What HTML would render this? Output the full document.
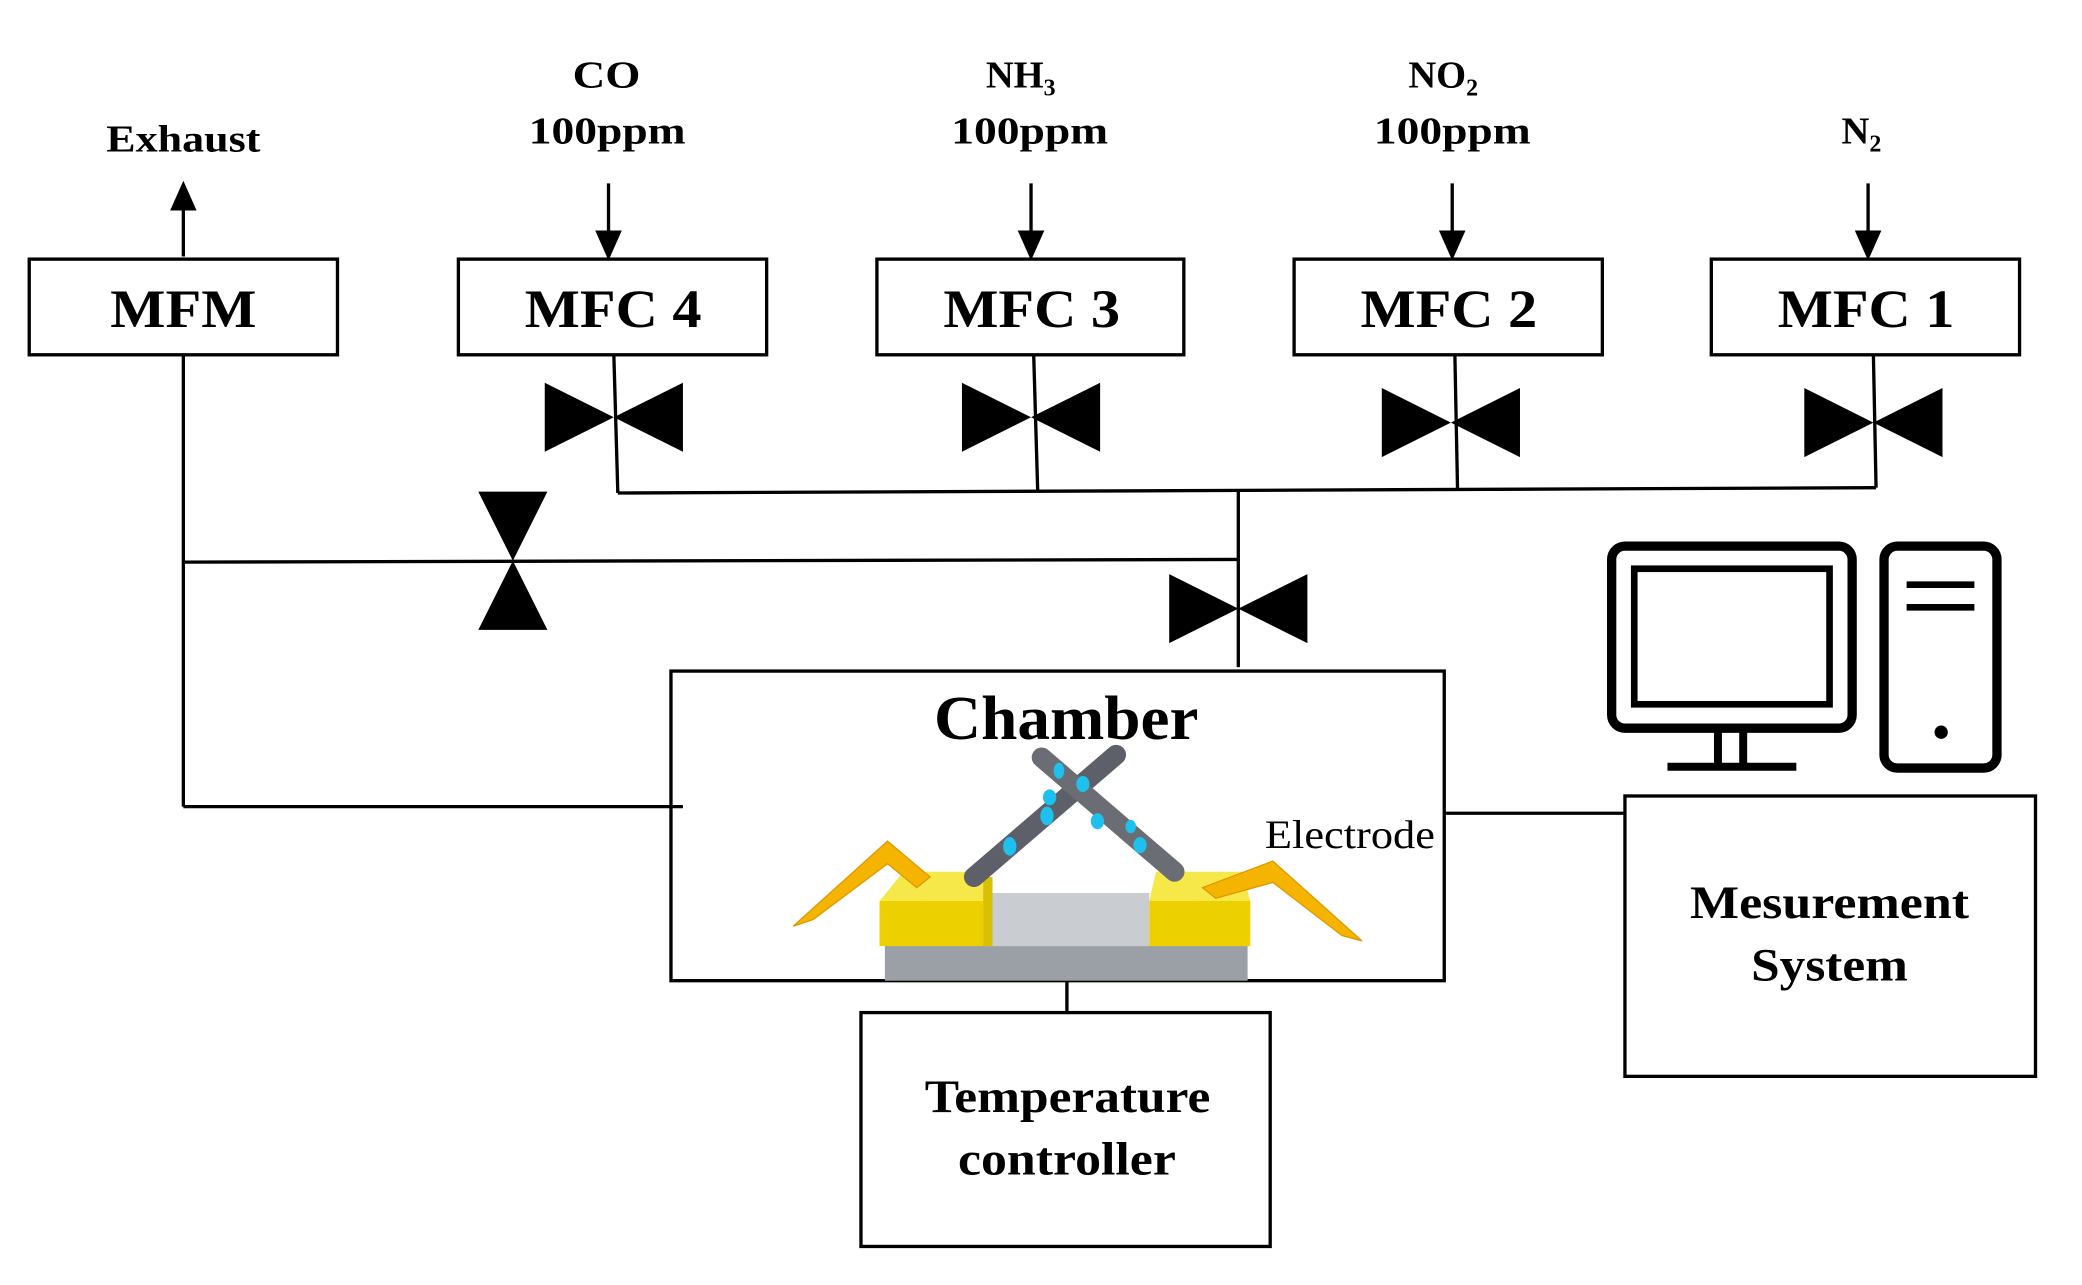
<!DOCTYPE html>
<html><head><meta charset="utf-8"><style>
html,body{margin:0;padding:0;background:#fff}
svg{display:block}
text{font-family:"Liberation Serif",serif;fill:#000}
.b{font-weight:bold}
</style></head><body>
<svg width="2082" height="1285" viewBox="0 0 1567 967" preserveAspectRatio="none" xmlns="http://www.w3.org/2000/svg">
<defs><marker id="ah" markerWidth="10" markerHeight="10" refX="5" refY="5" orient="auto"><path d="M0,1 L9,5 L0,9 Z" fill="#000"/></marker></defs>
<g stroke="#000" stroke-width="2.5" fill="none">
<line x1="138" y1="193" x2="138" y2="146" marker-end="url(#ah)"/>
<line x1="458" y1="138" x2="458" y2="186" marker-end="url(#ah)"/>
<line x1="776" y1="138" x2="776" y2="186" marker-end="url(#ah)"/>
<line x1="1093" y1="138" x2="1093" y2="186" marker-end="url(#ah)"/>
<line x1="1406" y1="138" x2="1406" y2="186" marker-end="url(#ah)"/>
<rect x="22" y="195" width="232" height="72" fill="#fff"/>
<rect x="345" y="195" width="232" height="72" fill="#fff"/>
<rect x="660" y="195" width="231" height="72" fill="#fff"/>
<rect x="974" y="195" width="232" height="72" fill="#fff"/>
<rect x="1288" y="195" width="232" height="72" fill="#fff"/>
<line x1="462" y1="267" x2="465" y2="371"/>
<line x1="778" y1="267" x2="781" y2="369"/>
<line x1="1095" y1="267" x2="1097" y2="368"/>
<line x1="1410" y1="267" x2="1412" y2="367"/>
<line x1="465" y1="371" x2="1412" y2="367"/>
<line x1="932" y1="369" x2="932" y2="502"/>
<line x1="138" y1="423" x2="932" y2="421"/>
<line x1="138" y1="267" x2="138" y2="607"/>
<line x1="138" y1="607" x2="514" y2="607"/>
<rect x="505" y="505" width="582" height="233"/>
<line x1="1087" y1="612" x2="1223" y2="612"/>
<rect x="1223" y="599" width="309" height="211"/>
<line x1="803" y1="738" x2="803" y2="762"/>
<rect x="648" y="762" width="308" height="176"/>
</g>
<g fill="#000">
<path d="M410,288 L462,314 L410,340 Z M514,288 L462,314 L514,340 Z"/>
<path d="M724,288 L776,314 L724,340 Z M828,288 L776,314 L828,340 Z"/>
<path d="M1040,292 L1092,318 L1040,344 Z M1144,292 L1092,318 L1144,344 Z"/>
<path d="M1358,292 L1410,318 L1358,344 Z M1462,292 L1410,318 L1462,344 Z"/>
<path d="M360,370 L412,370 L386,422 Z M360,474 L412,474 L386,422 Z"/>
<path d="M880,432 L932,458 L880,484 Z M984,432 L932,458 L984,484 Z"/>
</g>
<g stroke="#000" stroke-width="7" fill="none">
<rect x="1213" y="411" width="181" height="137" rx="10"/>
<rect x="1230" y="428" width="147" height="102" stroke-width="5"/>
<line x1="1293" y1="548" x2="1293" y2="577" stroke-width="6"/>
<line x1="1312" y1="548" x2="1312" y2="577" stroke-width="6"/>
<line x1="1255" y1="577" x2="1352" y2="577" stroke-width="6"/>
<rect x="1418" y="411" width="85" height="167" rx="10"/>
<line x1="1435" y1="440" x2="1486" y2="440" stroke-width="5"/>
<line x1="1435" y1="457" x2="1486" y2="457" stroke-width="5"/>
</g>
<circle cx="1461" cy="551" r="5" fill="#000"/>
<rect x="666" y="710" width="273" height="28" fill="#9aa0a6"/>
<path d="M745,672 L865,672 L865,712 L740,712 Z" fill="#c9ccd0"/>
<rect x="662" y="678" width="78" height="34" fill="#ecd000"/>
<path d="M662,678 L680,656 L745,656 L740,678 Z" fill="#f7e84a"/>
<rect x="740" y="660" width="7" height="52" fill="#d9c000"/>
<rect x="865" y="678" width="76" height="34" fill="#ecd000"/>
<path d="M865,678 L870,656 L935,656 L941,678 Z" fill="#f7e84a"/>
<path d="M597,697 L668,633 L700,660 L690,668 L668,650 L612,692 Z" fill="#f5b400" stroke="#e09a00" stroke-width="1"/>
<path d="M1025,708 L958,648 L905,668 L915,676 L958,664 L1010,704 Z" fill="#f5b400" stroke="#e09a00" stroke-width="1"/>
<line x1="733" y1="660" x2="840" y2="568" stroke="#5d6068" stroke-width="15" stroke-linecap="round"/>
<line x1="784" y1="570" x2="884" y2="656" stroke="#6a6d74" stroke-width="15" stroke-linecap="round"/>
<g fill="#1ec0ee">
<ellipse cx="760" cy="637" rx="5" ry="7"/><ellipse cx="788" cy="614" rx="5" ry="7"/><ellipse cx="815" cy="590" rx="5" ry="6"/>
<ellipse cx="790" cy="600" rx="5" ry="6"/><ellipse cx="826" cy="618" rx="5" ry="6"/><ellipse cx="858" cy="636" rx="5" ry="6"/><ellipse cx="851" cy="622" rx="4" ry="5"/><ellipse cx="797" cy="580" rx="4" ry="6"/>
</g>
<g lengthAdjust="spacingAndGlyphs">
<text x="80" y="114" font-size="29" class="b" textLength="116" lengthAdjust="spacingAndGlyphs">Exhaust</text>
<text x="431" y="66" font-size="29" class="b" textLength="51" lengthAdjust="spacingAndGlyphs">CO</text>
<text x="398" y="108" font-size="29" class="b" textLength="118" lengthAdjust="spacingAndGlyphs">100ppm</text>
<text x="742" y="66" font-size="29" class="b">NH<tspan font-size="18" dy="6">3</tspan></text>
<text x="716" y="108" font-size="29" class="b" textLength="118" lengthAdjust="spacingAndGlyphs">100ppm</text>
<text x="1060" y="66" font-size="29" class="b">NO<tspan font-size="18" dy="6">2</tspan></text>
<text x="1034" y="108" font-size="29" class="b" textLength="118" lengthAdjust="spacingAndGlyphs">100ppm</text>
<text x="1386" y="108" font-size="29" class="b">N<tspan font-size="18" dy="6">2</tspan></text>
<text x="83" y="246" font-size="41" class="b" textLength="110" lengthAdjust="spacingAndGlyphs">MFM</text>
<text x="395" y="246" font-size="41" class="b" textLength="133" lengthAdjust="spacingAndGlyphs">MFC 4</text>
<text x="710" y="246" font-size="41" class="b" textLength="133" lengthAdjust="spacingAndGlyphs">MFC 3</text>
<text x="1024" y="246" font-size="41" class="b" textLength="133" lengthAdjust="spacingAndGlyphs">MFC 2</text>
<text x="1338" y="246" font-size="41" class="b" textLength="133" lengthAdjust="spacingAndGlyphs">MFC 1</text>
<text x="703" y="556" font-size="47" class="b" textLength="199" lengthAdjust="spacingAndGlyphs">Chamber</text>
<text x="952" y="638" font-size="30" textLength="128" lengthAdjust="spacingAndGlyphs">Electrode</text>
<text x="1272" y="691" font-size="35" class="b" textLength="210" lengthAdjust="spacingAndGlyphs">Mesurement</text>
<text x="1318" y="738" font-size="35" class="b" textLength="118" lengthAdjust="spacingAndGlyphs">System</text>
<text x="696" y="837" font-size="35" class="b" textLength="215" lengthAdjust="spacingAndGlyphs">Temperature</text>
<text x="721" y="884" font-size="35" class="b" textLength="164" lengthAdjust="spacingAndGlyphs">controller</text>
</g>
</svg>
</body></html>
